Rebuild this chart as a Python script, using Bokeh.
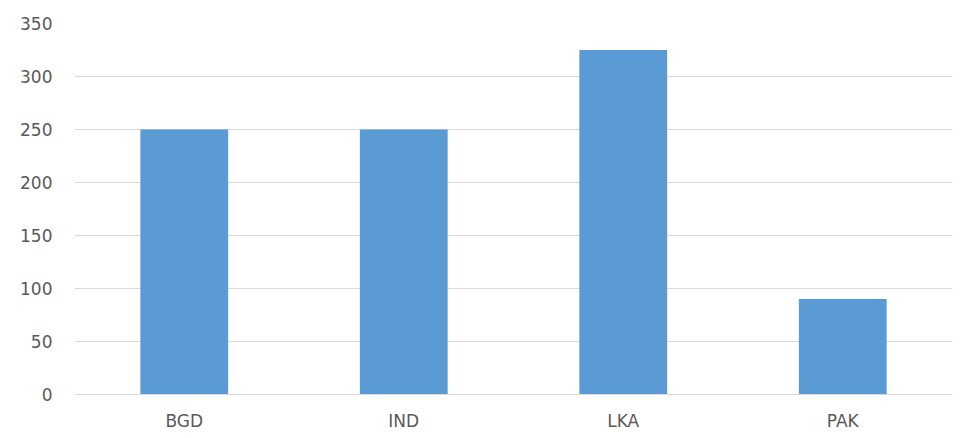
from bokeh.plotting import figure
from bokeh.models import ColumnDataSource, FixedTicker, Range1d
from bokeh.embed import file_html
from bokeh.resources import INLINE

countries = ["BGD", "IND", "LKA", "PAK"]
values = [250, 250, 325, 90]
y_ticks = [0, 50, 100, 150, 200, 250, 300, 350]

src = ColumnDataSource(dict(x=countries, top=values))

p = figure(x_range=countries, y_range=Range1d(0, 350), width=969, height=438,
           output_backend="svg", toolbar_location=None,
           min_border_left=74, min_border_right=17, min_border_top=23, min_border_bottom=44)
p.vbar(x="x", top="top", width=0.4, source=src, fill_color="#5B9BD5", line_color=None)
p.x_range.range_padding = 0

p.outline_line_color = None
p.xgrid.grid_line_color = None
p.ygrid.grid_line_color = "#D9D9D9"
p.ygrid.grid_line_width = 1
p.yaxis.ticker = FixedTicker(ticks=y_ticks)

for ax in (p.xaxis, p.yaxis):
    ax.major_tick_line_color = None
    ax.minor_tick_line_color = None
    ax.major_label_text_color = "#595959"
    ax.major_label_text_font = "DejaVu Sans"
    ax.major_label_text_font_size = "17px"
p.yaxis.axis_line_color = None
p.xaxis.axis_line_color = "#D9D9D9"
p.yaxis.major_label_standoff = 16
p.xaxis.major_label_standoff = 10

open("out.html", "w").write(file_html(p, INLINE))
